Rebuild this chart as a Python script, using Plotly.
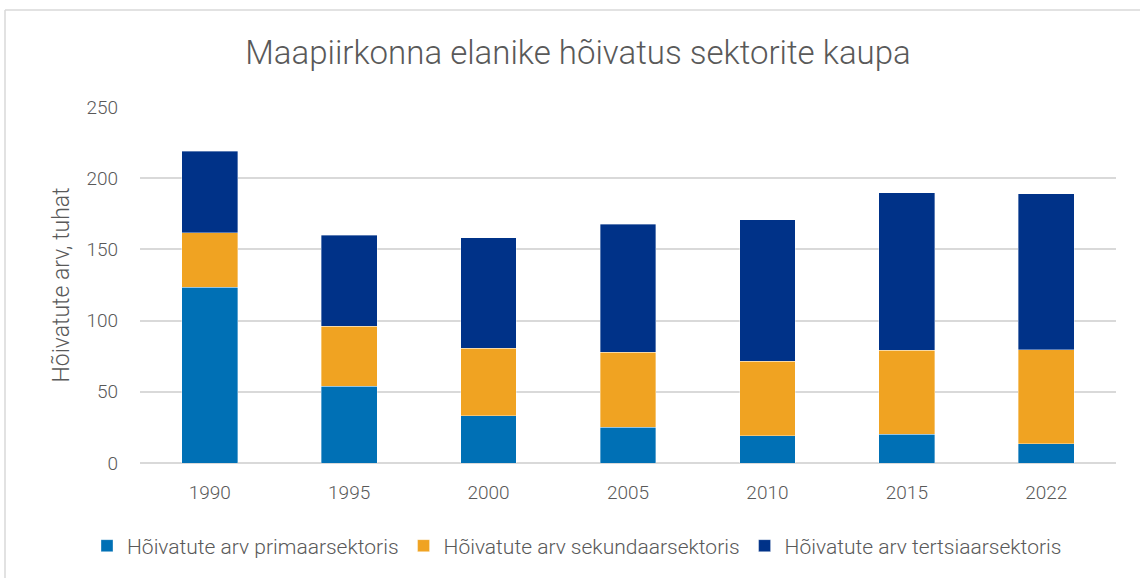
import plotly.graph_objects as go

years = ["1990", "1995", "2000", "2005", "2010", "2015", "2022"]
primary = [123.3, 54.0, 33.2, 25.0, 19.2, 20.3, 13.6]
secondary = [38.3, 42.1, 47.5, 52.9, 52.4, 59.0, 65.9]
tertiary = [57.5, 63.7, 77.6, 89.8, 99.4, 110.6, 109.7]

names = ["Hõivatute arv primaarsektoris", "Hõivatute arv sekundaarsektoris", "Hõivatute arv tertsiaarsektoris"]
colors = ["#0070B5", "#F0A322", "#003288"]

FONT = "Roboto"
GRAY = "#595959"

fig = go.Figure()
for vals, name, col in zip([primary, secondary, tertiary], names, colors):
    fig.add_trace(go.Bar(
        x=years, y=vals, name=name,
        marker=dict(color=col, line=dict(color="rgba(255,255,255,0.45)", width=0.8)),
    ))

W, H = 1140, 578
L, R, T, B = 140, 24, 107, 115
pw = W - L - R
ph = H - T - B

def px(x):
    return (x - L) / pw

def py(y):
    return (H - B - y) / ph

fig.update_layout(
    width=W, height=H,
    barmode="stack", bargap=0.6,
    plot_bgcolor="white", paper_bgcolor="white",
    margin=dict(l=L, r=R, t=T, b=B),
    font=dict(family=FONT, color=GRAY, size=18, weight=300),
    title=dict(text="Maapiirkonna elanike hõivatus sektorite kaupa",
               x=0.507, xanchor="center", y=1 - 52 / H, yanchor="middle",
               font=dict(size=33, color=GRAY, family=FONT, weight=300)),
    xaxis=dict(showgrid=False, showline=False, ticks="",
               tickfont=dict(size=19, color=GRAY), ticklabelstandoff=16),
    yaxis=dict(range=[0, 250], dtick=50, showgrid=True, gridcolor="#d9d9d9", gridwidth=1.5,
               zeroline=True, zerolinecolor="#d9d9d9", zerolinewidth=1.5,
               showline=False, ticks="", tickfont=dict(size=19, color=GRAY),
               ticklabelstandoff=21,
               title=dict(text="Hõivatute arv, tuhat", font=dict(size=23, color=GRAY), standoff=10)),
    legend=dict(orientation="h", x=px(577), xanchor="center", y=py(546), yanchor="middle",
                font=dict(size=21, color=GRAY), itemwidth=30, traceorder="normal",
                tracegroupgap=0),
    shapes=[
        dict(type="line", xref="paper", yref="paper", x0=px(5), x1=px(1140), y0=py(10), y1=py(10),
             line=dict(color="#d9d9d9", width=1.5)),
        dict(type="line", xref="paper", yref="paper", x0=px(5), x1=px(5), y0=py(10), y1=py(578),
             line=dict(color="#d9d9d9", width=1.5)),
    ],
)

fig.write_html("out.html", config={"displayModeBar": False},
               post_script="document.body.style.margin='0';document.body.style.overflow='hidden';")
